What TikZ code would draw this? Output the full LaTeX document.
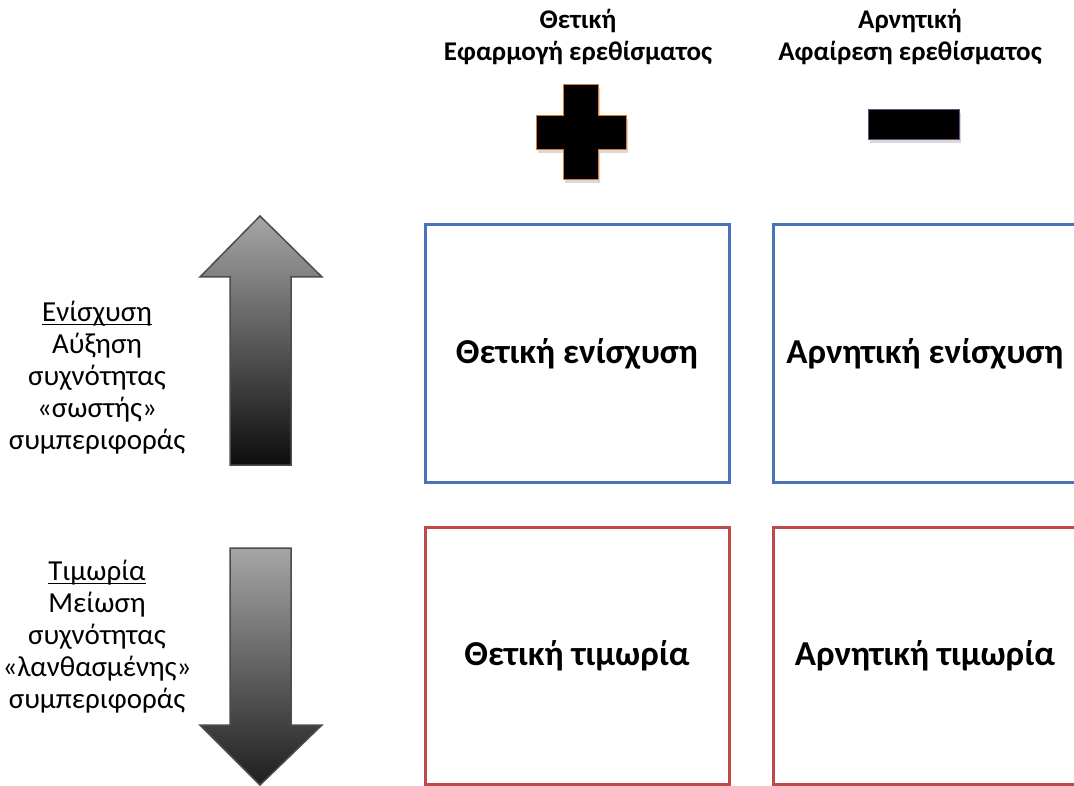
\documentclass[tikz,border=0pt]{standalone}
\usepackage{fontspec}
\setmainfont{Carlito}
\definecolor{boxblue}{HTML}{4A72B8}
\definecolor{boxred}{HTML}{BE4A48}
\definecolor{plusedge}{HTML}{E07A2A}
\definecolor{minusedge}{HTML}{6A4C8A}
\newcommand{\lineunder}[1]{\setbox0\hbox{#1}\rlap{\rule[-3.5pt]{\wd0}{1.3pt}}\box0}
\begin{document}
\begin{tikzpicture}[x=1pt,y=-1pt,line join=miter,
	cell/.style={line width=3pt,minimum height=257pt,inner sep=0pt,
		font=\bfseries\fontsize{35}{40}\selectfont},
	posbox/.style={cell,draw=boxblue},
	negbox/.style={cell,draw=boxred},
	head/.style={align=center,font=\bfseries\fontsize{27}{32}\selectfont},
	side/.style={align=center,font=\fontsize{29}{32}\selectfont},
	bigarrow/.style={draw=black!70,line width=1.5pt}]
	\useasboundingbox (0,0) rectangle (1074,786);
	\clip (0,0) rectangle (1074,786);
	%%Tiêu đề
	\node[head] (hpos) at (578,37) {Θετική\\Εφαρμογή ερεθίσματος};
	\node[head] (hneg) at (910,37) {Αρνητική\\Αφαίρεση ερεθίσματος};
	%%Dấu cộng, dấu trừ
	\fill[black!15] (565,88)--(600,88)--(600,119)--(628,119)--(628,153)--(600,153)--(600,183)--(565,183)--(565,153)--(538,153)--(538,119)--(565,119)--cycle;
	\filldraw[fill=black,draw=plusedge,line width=1pt] (563,85)--(598,85)--(598,116)--(626,116)--(626,150)--(598,150)--(598,180)--(563,180)--(563,150)--(536,150)--(536,116)--(563,116)--cycle;
	\fill[black!15] (870,113) rectangle (961,143);
	\filldraw[fill=black,draw=minusedge,line width=1pt] (868,110) rectangle (959,140);
	%%Mũi tên
	\path
	(260,216)coordinate(U1)(322,277)coordinate(U2)(291,277)coordinate(U3)(291,465)coordinate(U4)
	(230,465)coordinate(U5)(230,277)coordinate(U6)(200,277)coordinate(U7)
	(260,785)coordinate(D1)(322,725)coordinate(D2)(291,725)coordinate(D3)(291,548)coordinate(D4)
	(230,548)coordinate(D5)(230,725)coordinate(D6)(200,725)coordinate(D7)
	;
	\shade[bigarrow,top color=black!35,bottom color=black!95] (U1)--(U2)--(U3)--(U4)--(U5)--(U6)--(U7)--cycle;
	\shade[bigarrow,top color=black!35,bottom color=black!88] (D1)--(D2)--(D3)--(D4)--(D5)--(D6)--(D7)--cycle;
	%%Chú thích bên trái
	\node[side] (reinf) at (97,378) {\lineunder{Ενίσχυση}\\Αύξηση\\συχνότητας\\«σωστής»\\συμπεριφοράς};
	\node[side] (punish) at (97,637) {\lineunder{Τιμωρία}\\Μείωση\\συχνότητας\\«λανθασμένης»\\συμπεριφοράς};
	%%Ô
	\node[posbox,minimum width=304pt] (PR) at (577,353.5) {Θετική ενίσχυση};
	\node[posbox,minimum width=314pt] (NR) at (930,353.5) {\hspace*{-10pt}Αρνητική ενίσχυση};
	\node[negbox,minimum width=304pt] (PP) at (577,656) {Θετική τιμωρία};
	\node[negbox,minimum width=314pt] (NP) at (930,656) {\hspace*{-10pt}Αρνητική τιμωρία};
\end{tikzpicture}
\end{document}
